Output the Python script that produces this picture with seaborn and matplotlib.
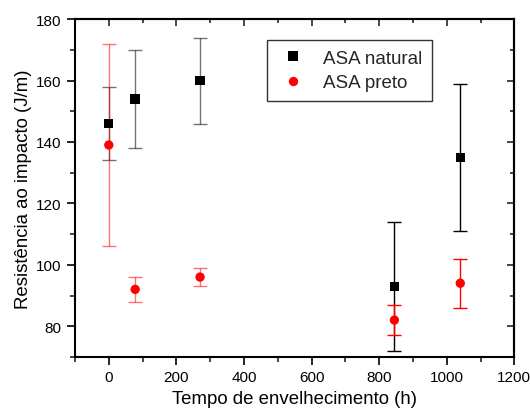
import numpy as np
import pandas as pd
import matplotlib
matplotlib.use("Agg")
import matplotlib.pyplot as plt
import seaborn as sns
from matplotlib.ticker import MultipleLocator

# Aging time (h)
tempo = [0, 78, 270, 845, 1040]

# ASA natural: mean impact strength and error bar limits (J/m)
natural = [146, 154, 160, 93, 135]
natural_hi = [158, 170, 174, 114, 159]
natural_lo = [134, 138, 146, 72, 111]

# ASA preto
preto = [139, 92, 96, 82, 94]
preto_hi = [172, 96, 99, 87, 102]
preto_lo = [106, 88, 93, 77, 86]

sns.set_theme(style="ticks")
plt.rcParams["font.family"] = ["Liberation Sans", "DejaVu Sans"]

df = pd.DataFrame({
    "tempo": tempo * 2,
    "valor": natural + preto,
    "serie": ["ASA natural"] * 5 + ["ASA preto"] * 5,
})

fig = plt.figure(figsize=(5.3, 4.1), dpi=100)
ax = fig.add_axes([0.1415, 0.127, 0.829, 0.824])

def draw_err(x, y, hi, lo, color):
    y = np.array(y, float)
    yerr = [y - np.array(lo), np.array(hi) - y]
    # first three points rendered semi-transparent, later ones solid
    for idx, alpha in ((slice(0, 3), 0.55), (slice(3, 5), 1.0)):
        ax.errorbar(np.array(x)[idx], y[idx],
                    yerr=[yerr[0][idx], yerr[1][idx]],
                    fmt="none", ecolor=color, elinewidth=1.0,
                    capsize=5, capthick=1.0, alpha=alpha, zorder=2)

draw_err(tempo, natural, natural_hi, natural_lo, "black")
draw_err(tempo, preto, preto_hi, preto_lo, "red")

sns.scatterplot(data=df, x="tempo", y="valor", hue="serie", style="serie",
                markers={"ASA natural": "s", "ASA preto": "o"},
                palette={"ASA natural": "black", "ASA preto": "red"},
                s=45, edgecolor="none", linewidth=0, ax=ax, zorder=3)

ax.set_xlim(-100, 1200)
ax.set_ylim(70, 180)
ax.set_xticks(range(0, 1201, 200))
ax.set_yticks(range(80, 181, 20))
ax.xaxis.set_minor_locator(MultipleLocator(100))
ax.yaxis.set_minor_locator(MultipleLocator(10))

for s in ax.spines.values():
    s.set_linewidth(1.5)
    s.set_color("black")

ax.tick_params(axis="both", which="major", direction="out", length=6, width=1.2,
               labelsize=11, colors="black", top=False, right=False)
ax.tick_params(axis="both", which="minor", direction="out", length=3.5, width=1.2,
               top=False, right=False)

# inward ticks on the top and right edges
axt = ax.secondary_xaxis("top")
axt.xaxis.set_major_locator(MultipleLocator(200))
axt.xaxis.set_minor_locator(MultipleLocator(100))
axt.tick_params(which="major", direction="in", length=5, width=1.2, labeltop=False)
axt.tick_params(which="minor", direction="in", length=3, width=1.2)
axr = ax.secondary_yaxis("right")
axr.yaxis.set_major_locator(MultipleLocator(20))
axr.yaxis.set_minor_locator(MultipleLocator(10))
axr.tick_params(which="major", direction="in", length=5, width=1.2, labelright=False)
axr.tick_params(which="minor", direction="in", length=3, width=1.2)
for a in (axt, axr):
    for s in a.spines.values():
        s.set_linewidth(1.5)

ax.set_xlabel("Tempo de envelhecimento (h)", fontsize=13.4, color="black", labelpad=4)
ax.set_ylabel("Resistência ao impacto (J/m)", fontsize=13.4, color="black", labelpad=3)

leg = ax.legend(loc="upper left", bbox_to_anchor=(0.437, 0.938), borderaxespad=0,
                frameon=True, fancybox=False, edgecolor="black", fontsize=13.5,
                handletextpad=0.7, borderpad=0.5, labelspacing=0.4,
                handlelength=1.8, markerscale=1.0)
leg.get_frame().set_linewidth(1.0)
leg.set_title(None)

fig.savefig("out.png", dpi=100)
